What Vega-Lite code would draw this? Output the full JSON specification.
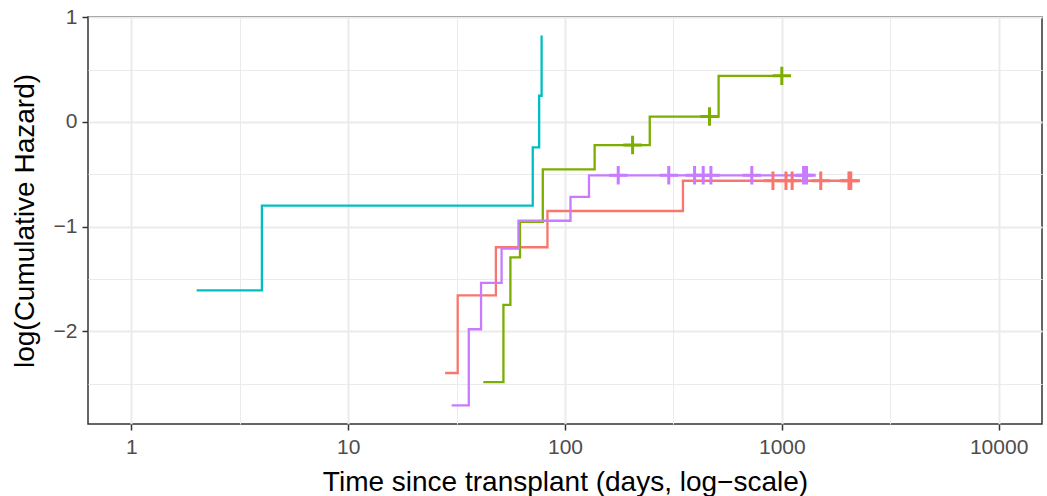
{
  "$schema": "https://vega.github.io/schema/vega-lite/v6.json",
  "description": "log cumulative hazard by group, step lines with censoring marks",
  "width": 954,
  "height": 407,
  "autosize": "none",
  "padding": {"left": 88, "top": 17, "right": 5, "bottom": 72},
  "background": "white",
  "config": {
    "view": {"stroke": "#333333", "strokeWidth": 1.5},
    "font": "Liberation Sans",
    "axis": {
      "domain": false,
      "gridColor": "#EBEBEB",
      "tickColor": "#333333",
      "tickWidth": 1.5,
      "labelColor": "#4D4D4D",
      "labelFont": "Liberation Sans",
      "labelFontSize": 21,
      "labelOverlap": false,
      "titleFont": "Liberation Sans",
      "titleFontSize": 28,
      "titleFontWeight": "normal",
      "titleColor": "black"
    }
  },
  "data": {
    "values": [
      {"g": "A", "t": 28, "h": -2.398, "c": 0},
      {"g": "A", "t": 32, "h": -1.656, "c": 0},
      {"g": "A", "t": 48, "h": -1.197, "c": 0},
      {"g": "A", "t": 83, "h": -0.851, "c": 0},
      {"g": "A", "t": 350, "h": -0.562, "c": 0},
      {"g": "A", "t": 910, "h": -0.562, "c": 1},
      {"g": "A", "t": 1045, "h": -0.562, "c": 1},
      {"g": "A", "t": 1116, "h": -0.562, "c": 1},
      {"g": "A", "t": 1512, "h": -0.562, "c": 1},
      {"g": "A", "t": 2040, "h": -0.562, "c": 1},
      {"g": "A", "t": 2080, "h": -0.562, "c": 1},
      {"g": "B", "t": 42, "h": -2.485, "c": 0},
      {"g": "B", "t": 52, "h": -1.747, "c": 0},
      {"g": "B", "t": 56, "h": -1.294, "c": 0},
      {"g": "B", "t": 62, "h": -0.954, "c": 0},
      {"g": "B", "t": 79, "h": -0.454, "c": 0},
      {"g": "B", "t": 137, "h": -0.221, "c": 0},
      {"g": "B", "t": 205, "h": -0.221, "c": 1},
      {"g": "B", "t": 246, "h": 0.051, "c": 0},
      {"g": "B", "t": 464, "h": 0.051, "c": 1},
      {"g": "B", "t": 511, "h": 0.44, "c": 0},
      {"g": "B", "t": 1000, "h": 0.44, "c": 1},
      {"g": "C", "t": 2, "h": -1.609, "c": 0},
      {"g": "C", "t": 4, "h": -0.799, "c": 0},
      {"g": "C", "t": 71, "h": -0.244, "c": 0},
      {"g": "C", "t": 76, "h": 0.25, "c": 0},
      {"g": "C", "t": 78, "h": 0.826, "c": 0},
      {"g": "D", "t": 30, "h": -2.708, "c": 0},
      {"g": "D", "t": 36, "h": -1.98, "c": 0},
      {"g": "D", "t": 41, "h": -1.537, "c": 0},
      {"g": "D", "t": 51, "h": -1.21, "c": 0},
      {"g": "D", "t": 61, "h": -0.944, "c": 0},
      {"g": "D", "t": 106, "h": -0.715, "c": 0},
      {"g": "D", "t": 129, "h": -0.51, "c": 0},
      {"g": "D", "t": 176, "h": -0.51, "c": 1},
      {"g": "D", "t": 301, "h": -0.51, "c": 1},
      {"g": "D", "t": 396, "h": -0.51, "c": 1},
      {"g": "D", "t": 434, "h": -0.51, "c": 1},
      {"g": "D", "t": 471, "h": -0.51, "c": 1},
      {"g": "D", "t": 727, "h": -0.51, "c": 1},
      {"g": "D", "t": 1260, "h": -0.51, "c": 1},
      {"g": "D", "t": 1300, "h": -0.51, "c": 1}
    ]
  },
  "encoding": {
    "x": {
      "field": "t",
      "type": "quantitative",
      "scale": {"type": "log", "domain": [0.631, 15849], "nice": false},
      "axis": {
        "title": "Time since transplant (days, log−scale)",
        "values": [1, 3.1623, 10, 31.623, 100, 316.23, 1000, 3162.3, 10000],
        "labelExpr": "datum.value == floor(datum.value) ? format(datum.value, 'd') : ''",
        "gridWidth": {"condition": {"test": "datum.value == floor(datum.value)", "value": 2}, "value": 1},
        "tickSize": {"condition": {"test": "datum.value == floor(datum.value)", "value": 6}, "value": 0},
        "labelPadding": 6,
        "titleY": 66,
        "titleBaseline": "alphabetic"
      }
    },
    "y": {
      "field": "h",
      "type": "quantitative",
      "scale": {"domain": [-2.885, 1.002], "nice": false, "zero": false},
      "axis": {
        "title": "log(Cumulative Hazard)",
        "values": [-2.5, -2, -1.5, -1, -0.5, 0, 0.5, 1],
        "labelExpr": "datum.value == floor(datum.value) ? format(datum.value, 'd') : ''",
        "gridWidth": {"condition": {"test": "datum.value == floor(datum.value)", "value": 2}, "value": 1},
        "tickSize": {"condition": {"test": "datum.value == floor(datum.value)", "value": 6}, "value": 0},
        "labelPadding": 5,
        "titleX": -55,
        "titleBaseline": "alphabetic"
      }
    },
    "color": {
      "field": "g",
      "type": "nominal",
      "scale": {"domain": ["A", "B", "C", "D"], "range": ["#F8766D", "#7CAE00", "#00BFC4", "#C77CFF"]},
      "legend": null
    }
  },
  "layer": [
    {
      "mark": {"type": "line", "interpolate": "step-after", "strokeWidth": 2.3}
    },
    {
      "transform": [{"filter": "datum.c == 1"}],
      "mark": {
        "type": "point",
        "shape": "M-1,0L1,0M0,-1L0,1",
        "size": 340,
        "filled": false,
        "strokeWidth": 3,
        "opacity": 1
      }
    }
  ]
}
